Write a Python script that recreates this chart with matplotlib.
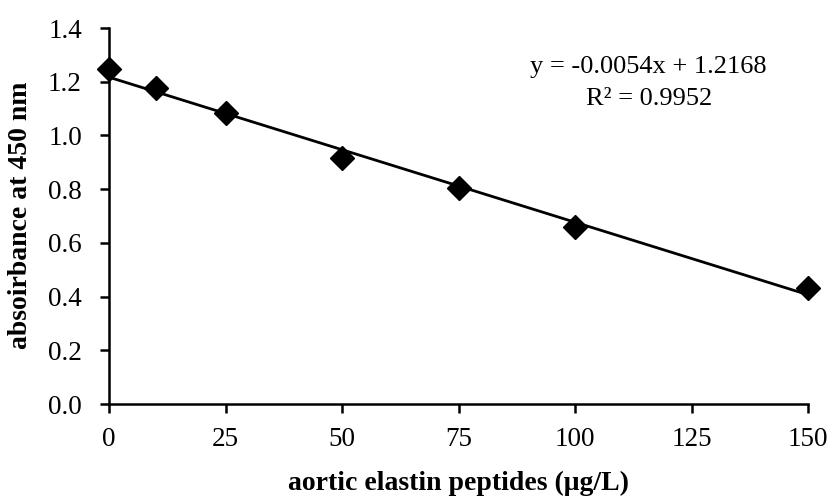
import matplotlib
matplotlib.use("Agg")
import matplotlib.pyplot as plt
import numpy as np

x_vals = [0, 10, 25, 50, 75, 100, 150]
absorbance = [1.247, 1.176, 1.084, 0.916, 0.805, 0.658, 0.431]
slope = -0.0054
intercept = 1.2168
x_ticks = [0, 25, 50, 75, 100, 125, 150]
y_ticks = [0.0, 0.2, 0.4, 0.6, 0.8, 1.0, 1.2, 1.4]

plt.rcParams['font.family'] = ['Liberation Serif', 'DejaVu Serif']

fig = plt.figure(figsize=(8.36, 4.98), dpi=100)
ax = fig.add_axes([109/836, 1-404/498, (808-109)/836, (404-28)/498])

xl = np.array([0, 150])
ax.plot(xl, slope*xl + intercept, color='black', lw=2.0, zorder=2)
ax.plot(x_vals, absorbance, linestyle='none', marker='D', markersize=12,
        color='black', zorder=3, clip_on=False)

ax.set_xlim(0, 150)
ax.set_ylim(0, 1.4)
ax.set_xticks(x_ticks)
ax.set_xticklabels([str(t) for t in x_ticks])
ax.set_yticks(y_ticks)
ax.set_yticklabels([f"{t:.1f}" for t in y_ticks])
for s in ['top', 'right']:
    ax.spines[s].set_visible(False)
for s in ['left', 'bottom']:
    ax.spines[s].set_linewidth(1.8)
ax.tick_params(axis='both', direction='out', length=6.5, width=1.8,
               labelsize=19.5, colors='black')
ax.tick_params(axis='y', pad=13)
ax.tick_params(axis='x', pad=10)

ax.set_xlabel('aortic elastin peptides (μg/L)', fontsize=20, fontweight='bold')
ax.set_ylabel('absoirbance at 450 nm', fontsize=20, fontweight='bold')
ax.xaxis.set_label_coords(0.5, -0.178)
ax.yaxis.set_label_coords(-0.109, 0.503)

ax.text(0.772, 0.895, 'y = -0.0054x + 1.2168', transform=ax.transAxes,
        fontsize=19, ha='center', va='center')
ax.text(0.7725, 0.81, 'R² = 0.9952', transform=ax.transAxes,
        fontsize=19, ha='center', va='center')

fig.savefig('out.png', dpi=100)
